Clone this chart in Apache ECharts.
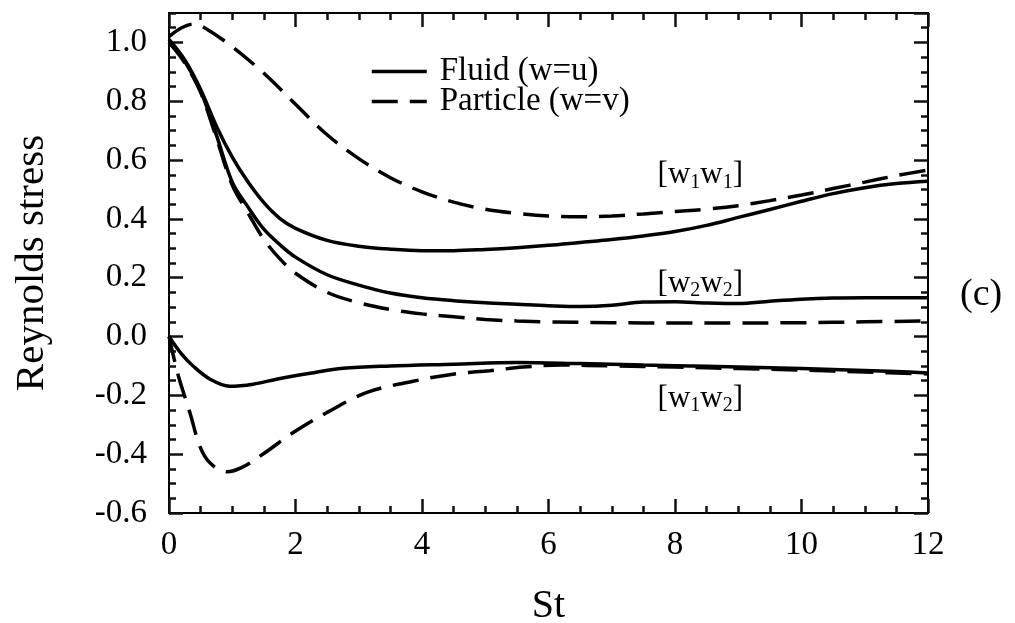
<!DOCTYPE html>
<html>
<head>
<meta charset="utf-8">
<script src="https://cdn.jsdelivr.net/npm/echarts@6/dist/echarts.min.js"></script>
<style>
html,body{margin:0;padding:0;background:#fff;overflow:hidden;}
.w{width:1015px;height:623px;position:relative;overflow:hidden;}
.c{width:1015px;height:623px;position:absolute;left:0;top:0;}
</style>
</head>
<body>
<div class="w"><div id="c0" class="c"></div></div>
<script>
// ---- data (St, Reynolds stress) ----
const fluidW1W1 = [[0,1.01],[0.25,0.94],[0.5,0.84],[0.75,0.715],[1.0,0.61],[1.25,0.525],[1.5,0.455],[1.75,0.402],[2.0,0.368],[2.5,0.327],[3.0,0.307],[3.5,0.297],[4.0,0.292],[4.5,0.292],[5.0,0.296],[5.5,0.302],[6.0,0.31],[6.5,0.32],[7.0,0.33],[7.5,0.342],[8.0,0.357],[8.5,0.378],[9.0,0.405],[9.5,0.432],[10.0,0.46],[10.5,0.486],[11.0,0.506],[11.5,0.52],[12.0,0.528]];
const fluidW2W2 = [[0,1.0],[0.25,0.935],[0.5,0.835],[0.75,0.685],[1.0,0.525],[1.25,0.44],[1.5,0.365],[1.75,0.313],[2.0,0.27],[2.5,0.21],[3.0,0.175],[3.5,0.148],[4.0,0.132],[4.5,0.122],[5.0,0.115],[5.5,0.11],[6.0,0.105],[6.5,0.102],[7.0,0.106],[7.5,0.117],[8.0,0.118],[8.5,0.114],[9.0,0.112],[9.5,0.12],[10.0,0.127],[10.5,0.131],[11.0,0.132],[11.5,0.132],[12.0,0.132]];
const fluidW1W2 = [[0,0.0],[0.2,-0.06],[0.38,-0.10],[0.65,-0.145],[0.96,-0.169],[1.33,-0.162],[1.7,-0.145],[2.23,-0.125],[2.75,-0.108],[3.5,-0.10],[4.5,-0.094],[5.5,-0.088],[6.5,-0.092],[7.5,-0.097],[8.5,-0.101],[9.5,-0.106],[10.5,-0.112],[11.5,-0.119],[12.0,-0.124]];
const particleW1W1 = [[0,1.02],[0.2,1.05],[0.4,1.063],[0.6,1.045],[1.0,0.985],[1.5,0.895],[2.0,0.79],[2.5,0.686],[3.0,0.605],[3.5,0.54],[4.0,0.492],[4.5,0.457],[5.0,0.433],[5.5,0.419],[6.0,0.41],[6.5,0.407],[7.0,0.41],[7.5,0.417],[8.0,0.425],[8.5,0.433],[9.0,0.445],[9.5,0.462],[10.0,0.481],[10.5,0.503],[11.0,0.525],[11.5,0.547],[12.0,0.566]];
const particleW2W2 = [[0,1.0],[0.25,0.93],[0.5,0.83],[0.75,0.675],[1.0,0.515],[1.25,0.42],[1.5,0.33],[1.75,0.265],[2.0,0.215],[2.5,0.15],[3.0,0.115],[3.5,0.092],[4.0,0.077],[4.5,0.067],[5.0,0.058],[5.5,0.053],[6.0,0.05],[7.0,0.047],[8.0,0.046],[9.0,0.046],[10.0,0.047],[11.0,0.05],[12.0,0.053]];
const particleW1W2 = [[0,0.0],[0.15,-0.135],[0.33,-0.258],[0.49,-0.374],[0.65,-0.43],[0.91,-0.46],[1.17,-0.443],[1.55,-0.39],[1.96,-0.327],[2.5,-0.258],[3.13,-0.19],[3.86,-0.152],[4.49,-0.128],[5.07,-0.116],[5.6,-0.104],[6.2,-0.097],[7.0,-0.1],[8.0,-0.104],[9.0,-0.109],[10.0,-0.114],[11.0,-0.121],[12.0,-0.127]];
const legendNames = ['Fluid (w=u)', 'Particle (w=v)'];
const annotTexts = ['[w{s|1}w{s|1}]', '[w{s|2}w{s|2}]', '[w{s|1}w{s|2}]'];
const annotPos = [[8.4, 0.548], [8.4, 0.18], [8.4, -0.213]];
const xTicks = [0, 2, 4, 6, 8, 10, 12];
const yTicks = [-0.6, -0.4, -0.2, 0.0, 0.2, 0.4, 0.6, 0.8, 1.0];
const FONT = '"Liberation Serif", serif';
const TICK = '#111111';

function build() {
  function yAxisDef(pos, major, main) {
    return {
      type: 'value', position: pos, min: -0.6, max: 1.1, interval: major ? 0.2 : 0.05,
      axisLine: {show: major, onZero: false, lineStyle: {color: '#000', width: 2}},
      axisTick: {show: true, inside: true, length: major ? 14 : 7, lineStyle: {color: TICK, width: 2.5}},
      axisLabel: {show: main, color: '#000', fontFamily: FONT, fontSize: 33, margin: 22, showMaxLabel: false,
        formatter: v => (yTicks.some(t => Math.abs(t - v) < 1e-6) ? v.toFixed(1) : '')},
      splitLine: {show: false},
      name: main ? 'Reynolds stress' : '', nameLocation: 'middle', nameGap: 116, nameRotate: 90,
      nameTextStyle: {color: '#000', fontFamily: FONT, fontSize: 41}
    };
  }
  function xAxisDef(pos, main) {
    return {
      type: 'value', position: pos, min: 0, max: 12, interval: 2,
      axisLine: {show: true, onZero: false, lineStyle: {color: '#000', width: 2}},
      axisTick: {show: true, inside: true, length: 14, lineStyle: {color: TICK, width: 2.5}},
      minorTick: {show: true, splitNumber: 4, length: 7, lineStyle: {color: TICK, width: 2.5}},
      axisLabel: {show: main, color: '#000', fontFamily: FONT, fontSize: 33, margin: 16,
        formatter: v => (xTicks.indexOf(v) >= 0 ? String(v) : '')},
      splitLine: {show: false}, minorSplitLine: {show: false},
      name: main ? 'St' : '', nameLocation: 'middle', nameGap: 73,
      nameTextStyle: {color: '#000', fontFamily: FONT, fontSize: 40}
    };
  }
  function lineSeries(name, data, dashed) {
    return {type: 'line', name: name, data: data, smooth: 0.35, symbol: 'none', showSymbol: false, silent: true,
      lineStyle: {color: '#000', width: 3.5, type: dashed ? [26, 12] : 'solid', cap: 'butt'}, itemStyle: {color: '#000'}};
  }
  return {
    backgroundColor: '#fff', animation: false,
    title: {text: ' ', left: 'center', top: 'middle', textStyle: {fontSize: 10, color: '#fff'}},
    grid: {left: 169, top: 13, right: 87, bottom: 110, outerBoundsMode: 'none'},
    xAxis: [xAxisDef('bottom', true), xAxisDef('top', false)],
    yAxis: [yAxisDef('left', true, true), yAxisDef('left', false, false), yAxisDef('right', true, false), yAxisDef('right', false, false)],
    legend: {data: legendNames, orient: 'vertical', left: 365, top: 50, itemGap: -3,
      itemWidth: 55, itemHeight: 14, selectedMode: false, itemStyle: {opacity: 0}, lineStyle: {width: 3.5},
      textStyle: {color: '#000', fontFamily: FONT, fontSize: 33, lineHeight: 30, padding: [0, 0, 0, 8]}},
    series: [
      lineSeries(legendNames[0], fluidW1W1, false),
      lineSeries(legendNames[1], particleW1W1, true),
      lineSeries(legendNames[0], fluidW2W2, false),
      lineSeries(legendNames[1], particleW2W2, true),
      lineSeries(legendNames[0], fluidW1W2, false),
      lineSeries(legendNames[1], particleW1W2, true),
      {type: 'scatter', name: 'labels', symbolSize: 0, silent: true, itemStyle: {opacity: 1, color: '#000'},
        data: annotPos.map((p, i) => ({value: p, label: {formatter: annotTexts[i]}})),
        label: {show: true, position: 'inside', color: '#000', fontFamily: FONT, fontSize: 31, lineHeight: 34,
          rich: {s: {fontSize: 20, lineHeight: 20, padding: [14, 0, 0, 0], fontFamily: FONT, color: '#000'}}}}
    ],
    graphic: [{type: 'text', left: 960, top: 276, style: {text: '(c)', font: '38px "Liberation Serif", serif', fill: '#000'}}]
  };
}
[0].forEach(i => { echarts.init(document.getElementById('c' + i), null, {renderer: 'canvas'}).setOption(build()); });
</script>
</body>
</html>
